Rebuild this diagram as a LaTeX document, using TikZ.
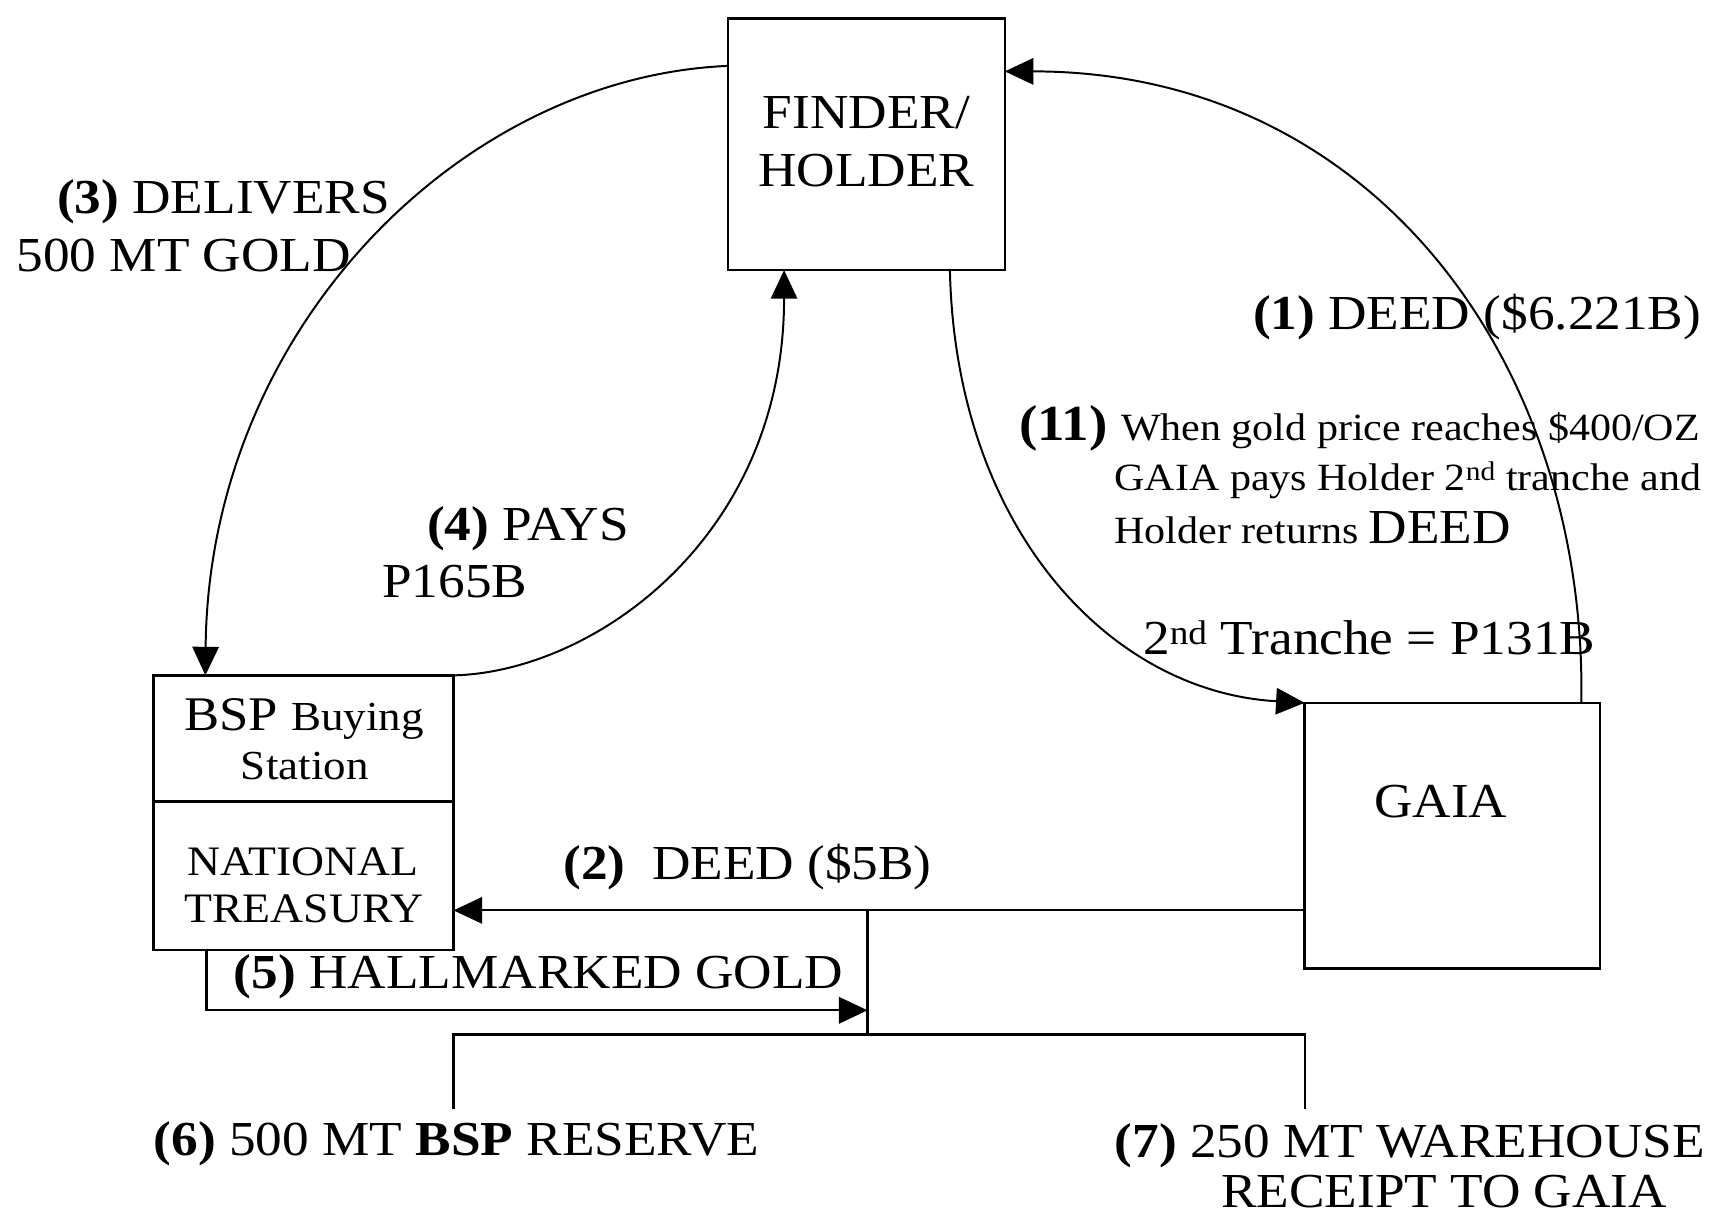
\documentclass[tikz,border=0pt]{standalone}
\usepackage{fontspec}
\setmainfont{Liberation Serif}[FakeStretch=1.09]
\usetikzlibrary{arrows.meta}
\newcommand\fsL{\fontsize{44.5}{53}\selectfont}
\newcommand\fsM{\fontsize{38.2}{44}\selectfont}
\newcommand\fsS{\fontsize{35.1}{44}\selectfont}
\begin{document}
\begin{tikzpicture}[x=1pt,y=-1pt,line join=miter,
  box/.style={draw,line width=2.4pt,inner sep=0pt,outer sep=0pt},
  lbl/.style={anchor=base west,inner sep=0pt,outer sep=0pt,font=\fsL},
  clbl/.style={anchor=base,inner sep=0pt,outer sep=0pt,font=\fsL},
  conn/.style={line width=2pt},
  curv/.style={line width=1.8pt},
  tip/.style={-{Triangle[length=26pt,width=24pt]}}]
\path[fill=white,use as bounding box] (0,0) rectangle (1569,1105);

% boxes
\node[box,minimum width=252pt,minimum height=229pt] (finder) at (789,131.5) {};
\node[box,minimum width=273pt,minimum height=115pt] (bsptop) at (276.5,672.5) {};
\node[box,minimum width=273pt,minimum height=135pt] (bspbot) at (276.5,797.5) {};
\node[box,minimum width=269pt,minimum height=242pt] (gaia) at (1322.5,761) {};

% box texts
\node[clbl] (finderA) at (789,117) {FINDER/};
\node[clbl] (finderB) at (789,170) {HOLDER};
\node[clbl] (bspA) at (277,665) {{\fontsize{44}{50}\selectfont BSP} {\fontsize{37.6}{44}\selectfont Buying}};
\node[clbl,font=\fontsize{37.6}{44}\selectfont] (bspB) at (277.5,710) {Station};
\node[clbl,font=\fsM] (natA) at (276,797) {NATIONAL};
\node[clbl,font=\fsM] (natB) at (276.5,840) {TREASURY};
\node[clbl] (gaiaT) at (1312,744) {GAIA};

% junction coordinates
\coordinate (j2) at (790,829);
\coordinate (j5) at (790,920);
\coordinate (j3) at (790,942);
\coordinate (e6) at (413,1010);
\coordinate (e7) at (1188,1010);

% curved connectors
\draw[curv,tip] ([yshift=-43pt]finder.north west)
   .. controls (420,70) and (190,300) .. ([xshift=47pt]bsptop.north west);
\draw[curv,tip] (bsptop.north east)
   .. controls (540,612) and (714,490) .. ([xshift=51pt]finder.south west);
\draw[curv,tip] ([xshift=202pt]finder.south west)
   .. controls (870,480) and (1010,630) .. (gaia.north west);
\draw[curv,tip] ([xshift=-17pt]gaia.north east)
   .. controls (1445,330) and (1250,65) .. ([yshift=-48pt]finder.north east);

% straight connectors
\draw[conn,tip] (gaia.west |- j2) -- (bspbot.east |- j2);
\draw[conn] (j2) -- (j3);
\draw[conn,tip] ([xshift=48pt]bspbot.south west) |- (j5);
\draw[conn] (e6) |- (j3) -| (e7);

% labels
\node[lbl] (t3a) at (52,194) {\textbf{(3)} DELIVERS};
\node[lbl] (t3b) at (15,247) {500 MT GOLD};
\node[lbl] (t1) at (1141,300) {\textbf{(1)} DEED (\$6.221B)};
\node[lbl] (t11a) at (928,401) {{\fontsize{46}{52}\selectfont\bfseries (11)} {\fsS When gold price reaches \$400/OZ}};
\node[lbl,font=\fsS] (t11b) at (1015,447) {GAIA pays Holder 2\textsuperscript{nd} tranche and};
\node[lbl,font=\fsS] (t11c) at (1015,495) {Holder returns {\fsL DEED}};
\node[lbl] (t4a) at (389,492) {\textbf{(4)} PAYS};
\node[lbl] (t4b) at (348,544) {P165B};
\node[lbl] (tTr) at (1041,596) {2\textsuperscript{nd} Tranche = P131B};
\node[lbl] (t2) at (513,801) {\textbf{(2)}\ \ DEED (\$5B)};
\node[lbl] (t5) at (213,900) {\textbf{(5)} HALLMARKED GOLD};
\node[lbl] (t6) at (140,1052) {\textbf{(6)} 500 MT \textbf{BSP} RESERVE};
\node[lbl] (t7a) at (1015,1054) {\textbf{(7)} 250 MT WAREHOUSE};
\node[lbl] (t7b) at (1112,1100) {RECEIPT TO GAIA};
\end{tikzpicture}
\end{document}
